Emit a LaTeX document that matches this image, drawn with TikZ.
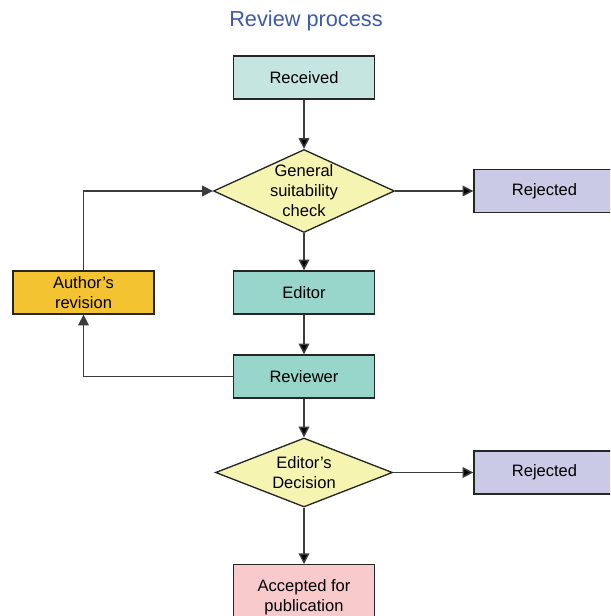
\documentclass[tikz,border=0pt]{standalone}
\usepackage{fontspec}
\setmainfont{Liberation Sans}
\usetikzlibrary{arrows.meta}
\usetikzlibrary{shapes.geometric}

\definecolor{recfill}{HTML}{C4E5E0}
\definecolor{edfill}{HTML}{98D5CB}
\definecolor{chkfill}{HTML}{F6F4B1}
\definecolor{rejfill}{HTML}{CACAE6}
\definecolor{authfill}{HTML}{F4C332}
\definecolor{accfill}{HTML}{F9CACB}
\definecolor{titleblue}{HTML}{3D59AB}
\definecolor{linegray}{HTML}{3C3C3C}

\begin{document}
\begin{tikzpicture}[x=0.75pt,y=-0.75pt,
    every node/.style={font=\fontsize{12.4}{15}\selectfont,align=center},
    box/.style={draw=black!85,line width=1pt,rectangle,minimum width=105.75pt,minimum height=32.25pt,inner sep=1pt},
    test/.style={draw=black!85,line width=1pt,diamond,fill=chkfill,inner sep=-3pt}]

  \path [use as bounding box,clip] (0,0) rectangle (610,616);

  \node [font=\fontsize{16.3}{19}\selectfont,text=titleblue] (title) at (306,21) {Review process};

  \node [box,fill=recfill] (rec) at (304,77.5) {Received};
  \node [test,shape aspect=2.2,minimum width=135.75pt,minimum height=62.25pt] (chk) at (304,191) {General\\suitability\\check};
  \node [box,fill=rejfill] (rej_1) at (544.5,191) {Rejected};
  \node [box,fill=authfill] (auth) at (83.5,292.5) {Author’s\\revision};
  \node [box,fill=edfill] (ed) at (304,292.5) {Editor};
  \node [box,fill=edfill] (rev) at (304,376.5) {Reviewer};
  \node [test,shape aspect=2.56,minimum width=132.75pt,minimum height=51.75pt] (dec) at (304,472.5) {Editor’s\\Decision};
  \node [box,fill=rejfill] (rej_2) at (544.5,472.5) {Rejected};
  \node [box,fill=accfill,minimum height=49.5pt,anchor=north] (acc) at (304,564) {Accepted for\\publication};

  \path [draw=linegray,line width=1.1pt,->,>={Triangle[length=8pt,width=8pt]}]
    (rec)  edge (chk)
    (chk)  edge (rej_1)
    (chk)  edge (ed)
    (ed)   edge (rev)
    (rev)  edge (dec)
    (dec)  edge (rej_2)
    (dec)  edge (acc);

  \draw [linegray,line width=1.1pt,->,>={Triangle[length=8pt,width=8pt]}]
    (rev.west) -| (auth.south);
  \draw [linegray,line width=1.1pt,->,>={Triangle[length=8pt,width=8pt]}]
    (auth.north) |- (chk.west);

\end{tikzpicture}
\end{document}
